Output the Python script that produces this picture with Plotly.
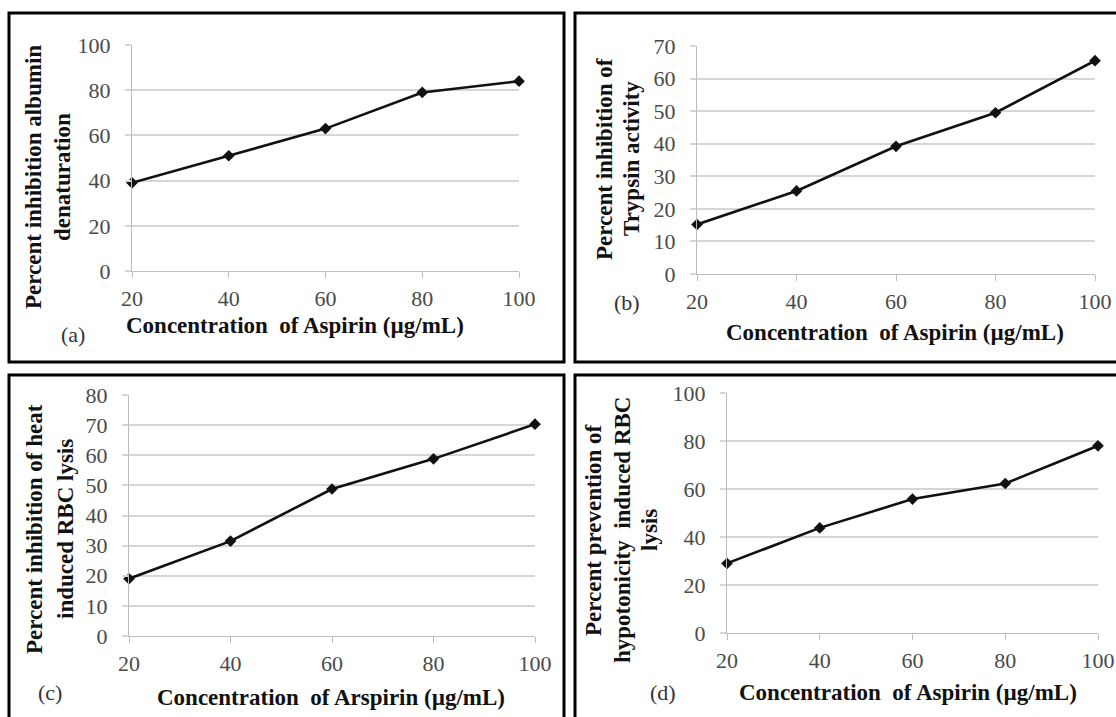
import plotly.graph_objects as go

# ---------------- data ----------------
concentration = [20, 40, 60, 80, 100]
albumin_denaturation = [39, 51, 63, 79, 84]
trypsin_inhibition = [15.2, 25.5, 39.2, 49.5, 65.5]
heat_rbc_lysis = [19, 31.5, 48.8, 58.8, 70.3]
hypotonic_rbc_lysis = [29, 43.8, 55.8, 62.3, 78]

panel_labels = ["(a)", "(b)", "(c)", "(d)"]
y_title_lines = [
    ["Percent inhibition albumin", "denaturation"],
    ["Percent inhibition of", "Trypsin activity"],
    ["Percent inhibition of heat", "induced RBC lysis"],
    ["Percent prevention of", "hypotonicity  induced RBC", "lysis"],
]
x_titles = [
    "Concentration  of Aspirin (µg/mL)",
    "Concentration  of Aspirin (µg/mL)",
    "Concentration  of Arspirin (µg/mL)",
    "Concentration  of Aspirin (µg/mL)",
]
y_max = [100, 70, 80, 100]
y_step = [20, 10, 10, 20]
series = [albumin_denaturation, trypsin_inhibition, heat_rbc_lysis, hypotonic_rbc_lysis]

# ---------------- layout geometry (pixels) ----------------
W, H = 1116, 717
def px(x):
    return x / W
def py(y):
    return 1 - y / H

# plot areas: (left, right, top, bottom)
areas = [(132, 519, 45, 271), (697, 1095, 46, 274), (129, 535, 395, 636), (727, 1098, 393, 633)]
# y-title line centres (x of each line, y centre)
ytitle_pos = [([33, 62], 177), ([605, 632], 159), ([34, 65], 529), ([593, 622, 649], 530)]
xtitle_pos = [(295, 325), (895, 333), (331, 697), (908, 692)]
label_pos = [(73, 334), (627, 303), (50, 692), (663, 692)]
boxes = [(9, 13, 564, 362), (575, 13, 1135, 362), (9, 375, 564, 735), (575, 375, 1135, 735)]

SERIF = "Liberation Serif, Times New Roman, serif"
GRID = "#d6d6d6"
AXIS = "#bdbdbd"
TICKC = "#4a4a4a"

fig = go.Figure()
annotations = []
shapes = []

for i in range(4):
    n = "" if i == 0 else str(i + 1)
    left, right, top, bottom = areas[i]
    fig.add_trace(go.Scatter(
        x=concentration, y=series[i], mode="lines+markers",
        line=dict(color="#111111", width=2.6),
        marker=dict(symbol="diamond", size=9, color="#111111"),
        cliponaxis=False, showlegend=False,
        xaxis="x" + n, yaxis="y" + n,
    ))
    fig.layout["xaxis" + n] = dict(
        domain=[px(left), px(right)], anchor="y" + n,
        range=[20, 100], tickvals=concentration,
        showgrid=False, zeroline=False, automargin=False,
        showline=True, linecolor=AXIS, linewidth=1.2,
        ticks="outside", ticklen=6, tickcolor=AXIS, tickwidth=1.2,
        ticklabelstandoff=1,
        tickfont=dict(family=SERIF, size=22, color=TICKC),
        fixedrange=True,
    )
    fig.layout["yaxis" + n] = dict(
        domain=[py(bottom), py(top)], anchor="x" + n,
        range=[0, y_max[i]], dtick=y_step[i], tick0=0,
        showgrid=True, gridcolor=GRID, gridwidth=1.5,
        zeroline=False, automargin=False,
        showline=True, linecolor=AXIS, linewidth=1.2,
        ticks="outside", ticklen=6, tickcolor=GRID, tickwidth=1.5,
        ticklabelstandoff=10,
        tickfont=dict(family=SERIF, size=22, color=TICKC),
        fixedrange=True,
    )
    # y-axis title lines
    xs, yc = ytitle_pos[i]
    for line_x, txt in zip(xs, y_title_lines[i]):
        annotations.append(dict(
            text="<b>" + txt + "</b>", x=px(line_x), y=py(yc),
            xref="paper", yref="paper", xanchor="center", yanchor="middle",
            textangle=-90, showarrow=False,
            font=dict(family=SERIF, size=23, color="#111111"),
        ))
    # x-axis title
    tx, ty = xtitle_pos[i]
    annotations.append(dict(
        text="<b>" + x_titles[i] + "</b>", x=px(tx), y=py(ty),
        xref="paper", yref="paper", xanchor="center", yanchor="middle",
        showarrow=False, font=dict(family=SERIF, size=23, color="#111111"),
    ))
    # panel label
    lx, ly = label_pos[i]
    annotations.append(dict(
        text=panel_labels[i], x=px(lx), y=py(ly),
        xref="paper", yref="paper", xanchor="center", yanchor="middle",
        showarrow=False, font=dict(family=SERIF, size=22, color="#333333"),
    ))
    # panel border
    x0, y0, x1, y1 = boxes[i]
    shapes.append(dict(
        type="rect", xref="paper", yref="paper",
        x0=px(x0), x1=px(x1), y0=py(y1), y1=py(y0),
        line=dict(color="black", width=3), fillcolor="rgba(0,0,0,0)",
    ))

fig.update_layout(
    width=W, height=H, autosize=False,
    margin=dict(l=0, r=0, t=0, b=0, autoexpand=False),
    paper_bgcolor="white", plot_bgcolor="white",
    annotations=annotations, shapes=shapes,
    showlegend=False,
)

fig.write_html(
    "out.html",
    config={"displayModeBar": False},
    post_script="document.body.style.margin='0';document.documentElement.style.overflow='hidden';",
)
